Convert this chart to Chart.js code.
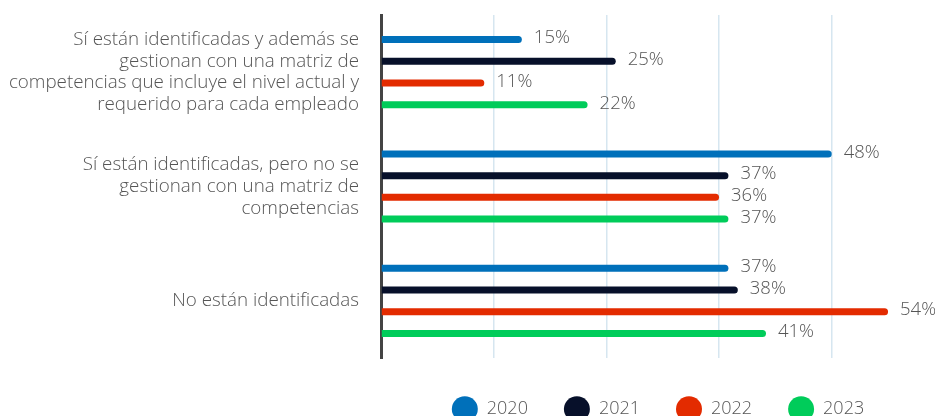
<!DOCTYPE html>
<html>
<head>
<meta charset="utf-8">
<script src="https://cdn.jsdelivr.net/npm/chart.js@4.4.1/dist/chart.umd.min.js"></script>
<style>
    html, body { margin: 0; padding: 0; background: #fff; overflow: hidden; }
    #wrap { width: 935px; height: 428px; position: relative; }
</style>
</head>
<body>
<div id="wrap"><canvas id="grafico"></canvas></div>
<script>
// -------------------------------
// Datos
// -------------------------------
const categorias = [
    ["Sí están identificadas y además se", "gestionan con una matriz de", "competencias que incluye el nivel actual y", "requerido para cada empleado"],
    ["Sí están identificadas, pero no se", "gestionan con una matriz de", "competencias"],
    ["No están identificadas"]
];
const anios = ["2020", "2021", "2022", "2023"];
const valores2020 = [15, 48, 37];
const valores2021 = [25, 37, 38];
const valores2022 = [11, 36, 54];
const valores2023 = [22, 37, 41];
const colores = ["#0070BA", "#07102A", "#E32B00", "#00CC5A"];

const gris = "#555555";
const fuente = "'Open Sans', 'DejaVu Sans', sans-serif";

// etiquetas de valor al final de cada barra
const etiquetasValor = {
    id: "etiquetasValor",
    afterDatasetsDraw(chart) {
        const { ctx } = chart;
        ctx.save();
        ctx.font = "300 18.5px " + fuente;
        ctx.fillStyle = gris;
        ctx.textAlign = "left";
        ctx.textBaseline = "middle";
        chart.data.datasets.forEach((ds, i) => {
            chart.getDatasetMeta(i).data.forEach((bar, j) => {
                ctx.fillText(ds.data[j] + "%", bar.x + 12, bar.y - 1.5);
            });
        });
        ctx.restore();
    }
};

const series = [valores2020, valores2021, valores2022, valores2023];

new Chart(document.getElementById("grafico"), {
    type: "bar",
    data: {
        labels: categorias,
        datasets: series.map((v, i) => ({
            label: anios[i],
            data: v,
            backgroundColor: colores[i],
            borderRadius: 4,
            maxBarThickness: 7,
            categoryPercentage: 0.76,
            barPercentage: 1
        }))
    },
    options: {
        indexAxis: "y",
        responsive: true,
        maintainAspectRatio: false,
        animation: false,
        layout: { padding: { top: 15, right: 0, left: 0, bottom: 0 } },
        scales: {
            x: {
                min: 0,
                max: 59,
                afterFit(scale) { scale.height = 6; },
                ticks: { display: false, stepSize: 12 },
                border: { display: false },
                grid: {
                    drawTicks: false,
                    lineWidth: 1.5,
                    color: c => (c.tick && c.tick.value > 0 && c.tick.value % 12 === 0) ? "#D6E6F0" : "rgba(0,0,0,0)"
                }
            },
            y: {
                afterFit(scale) {
                    scale.width = 381;
                    // las etiquetas largas no deben empujar el área del gráfico
                    scale.paddingTop = 0;
                    scale.paddingBottom = 0;
                },
                ticks: {
                    color: gris,
                    padding: 22,
                    font: { family: fuente, size: 18.8, weight: "300", lineHeight: 1.155 }
                },
                grid: { display: false, drawTicks: false },
                border: { display: true, color: "#444444", width: 3 }
            }
        },
        plugins: {
            tooltip: { enabled: false },
            legend: {
                position: "bottom",
                fullSize: false,
                labels: {
                    usePointStyle: true,
                    pointStyle: "circle",
                    pointStyleWidth: 26,
                    padding: 36,
                    color: gris,
                    font: { family: fuente, size: 18, weight: "300" }
                }
            }
        }
    },
    plugins: [etiquetasValor]
});
</script>
</body>
</html>
